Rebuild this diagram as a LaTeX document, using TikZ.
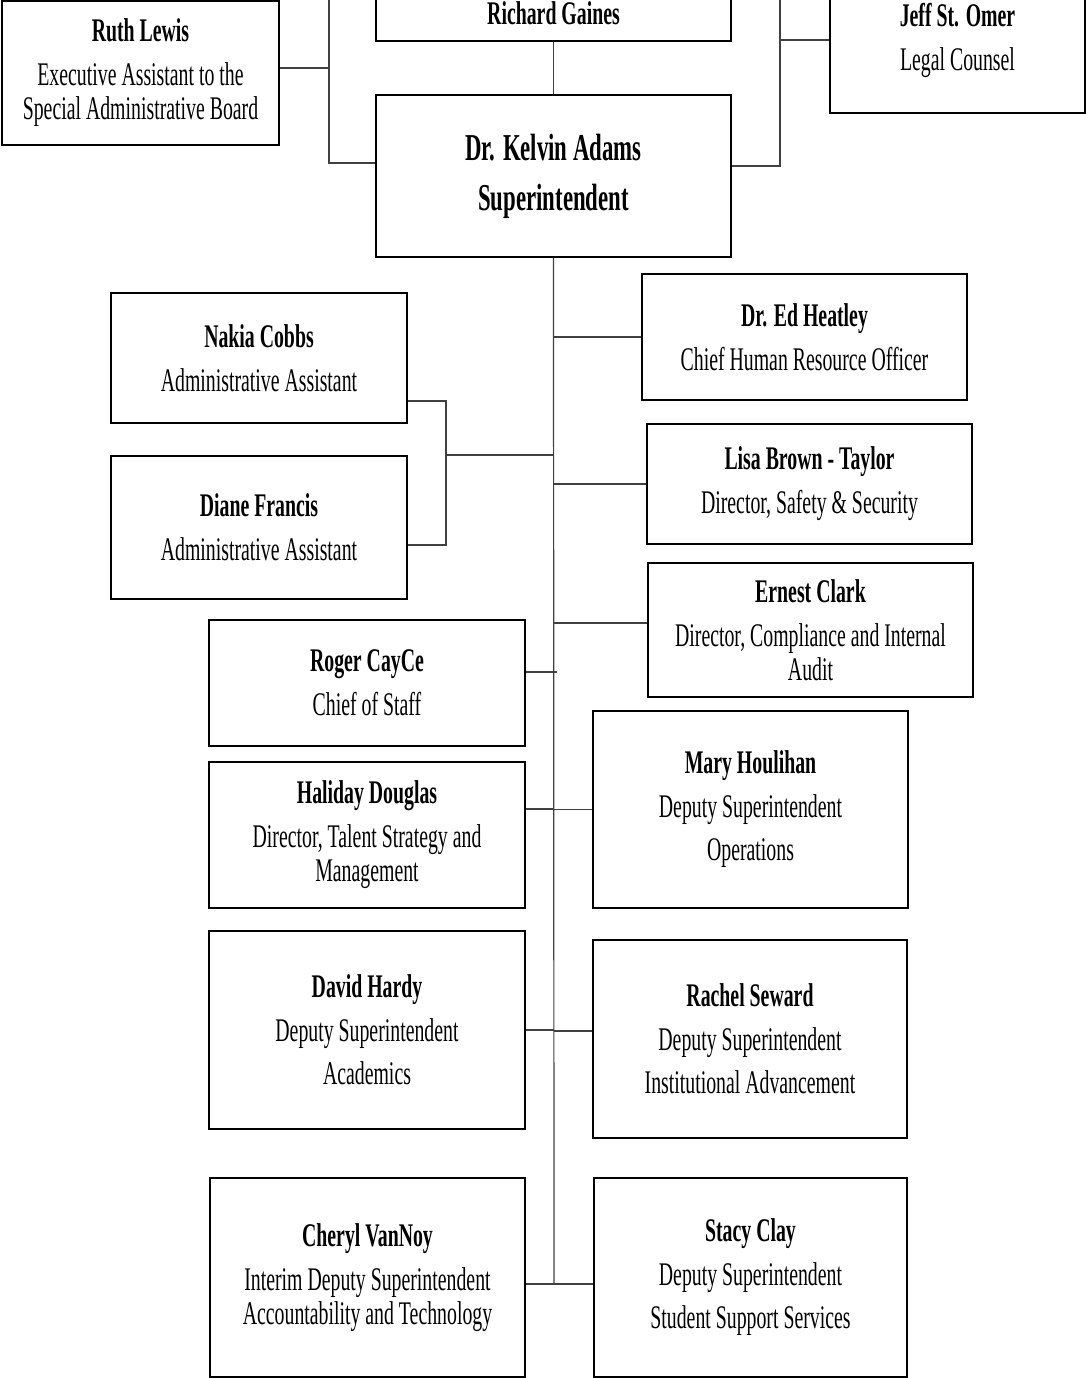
\documentclass[tikz,border=0pt]{standalone}
\usepackage{fontspec}
\setmainfont{Liberation Serif}[FakeStretch=0.6]

\begin{document}
\begin{tikzpicture}[
    x=1pt, y=-1pt,
    person/.style={
        rectangle, draw=black,
        align=center, inner sep=0pt,
        line width=2pt,
        font=\fontsize{33}{34}\selectfont
    },
    chief/.style={person, font=\fontsize{38}{50}\selectfont\bfseries},
    link/.style={line width=1.2pt, draw=black!75}
]
  \useasboundingbox (0,0) rectangle (1086,1378);
  \clip (0,0) rectangle (1086,1378);

  % Board level
  \node[person, minimum width=355, minimum height=56] (gaines) at (553.5,13) {\textbf{Richard Gaines}};
  \node[person, minimum width=277, minimum height=144] (lewis) at (140.5,73)
      {\textbf{Ruth Lewis}\\[10pt]Executive Assistant to the\\Special Administrative Board};
  \node[person, minimum width=255, minimum height=146] (stomer) at (957.5,40)
      {\textbf{Jeff St. Omer}\\[10pt]Legal Counsel};
  \node[chief, minimum width=355, minimum height=162] (adams) at (553.5,176)
      {Dr. Kelvin Adams\\Superintendent};

  % Right column
  \node[person, minimum width=325, minimum height=126] (heatley) at (804.5,337)
      {\textbf{Dr. Ed Heatley}\\[10pt]Chief Human Resource Officer};
  \node[person, minimum width=325, minimum height=120] (brown) at (809.5,484)
      {\textbf{Lisa Brown - Taylor}\\[10pt]Director, Safety \& Security};
  \node[person, minimum width=325, minimum height=134] (clark) at (810.5,630)
      {\textbf{Ernest Clark}\\[10pt]Director, Compliance and Internal\\Audit};
  \node[person, minimum width=315, minimum height=197] (houlihan) at (750.5,809.5)
      {\textbf{Mary Houlihan}\\[10pt]Deputy Superintendent\\[9pt]Operations};
  \node[person, minimum width=314, minimum height=198] (seward) at (750,1039)
      {\textbf{Rachel Seward}\\[10pt]Deputy Superintendent\\[9pt]Institutional Advancement};
  \node[person, minimum width=313, minimum height=199] (clay) at (750.5,1277.5)
      {\textbf{Stacy Clay}\\[10pt]Deputy Superintendent\\[9pt]Student Support Services};

  % Left column
  \node[person, minimum width=296, minimum height=130] (cobbs) at (259,358)
      {\textbf{Nakia Cobbs}\\[10pt]Administrative Assistant};
  \node[person, minimum width=296, minimum height=143] (francis) at (259,527.5)
      {\textbf{Diane Francis}\\[10pt]Administrative Assistant};
  \node[person, minimum width=316, minimum height=126] (cayce) at (367,683)
      {\textbf{Roger CayCe}\\[10pt]Chief of Staff};
  \node[person, minimum width=316, minimum height=146] (douglas) at (367,835)
      {\textbf{Haliday Douglas}\\[10pt]Director, Talent Strategy and\\Management};
  \node[person, minimum width=316, minimum height=198] (hardy) at (367,1030)
      {\textbf{David Hardy}\\[10pt]Deputy Superintendent\\[9pt]Academics};
  \node[person, minimum width=315, minimum height=199] (vannoy) at (367.5,1277.5)
      {\textbf{Cheryl VanNoy}\\[10pt]Interim Deputy Superintendent\\Accountability and Technology};

  % Junction points
  \coordinate (boardleft) at (329,-20);
  \coordinate (boardright) at (780,-20);
  \coordinate (adminjoin) at (446,455);
  \coordinate (trunkend) at (554,1284);

  % Board to Superintendent
  \draw[link] (gaines.south) -- (adams.north);
  \draw[link] ([yshift=13pt]adams.west) -| (boardleft);
  \draw[link] ([yshift=5pt]lewis.east) -- ([yshift=5pt]lewis.east -| boardleft);
  \draw[link] ([yshift=10pt]adams.east) -| (boardright);
  \draw[link] (stomer.west) -- (stomer.west -| boardright);

  % Main trunk
  \draw[link] (adams.south) -- (trunkend);

  % Right branches
  \draw[link] (heatley.west) -- (heatley.west -| trunkend);
  \draw[link] (brown.west) -- (brown.west -| trunkend);
  \draw[link] ([yshift=7pt]clark.west) -- ([yshift=7pt]clark.west -| trunkend);
  \draw[link] (houlihan.west) -- (houlihan.west -| trunkend);
  \draw[link] ([yshift=8pt]seward.west) -- ([yshift=8pt]seward.west -| trunkend);
  \draw[link] ([yshift=-6.5pt]clay.west) -- ([yshift=-6.5pt]clay.west -| trunkend);

  % Left branches
  \draw[link] ([yshift=-43pt]cobbs.east) -| (adminjoin);
  \draw[link] ([yshift=-17.5pt]francis.east) -| (adminjoin);
  \draw[link] (adminjoin) -- (adminjoin -| trunkend);
  \draw[link] ([yshift=11pt]cayce.east) -- ([yshift=11pt,xshift=3pt]cayce.east -| trunkend);
  \draw[link] ([yshift=26pt]douglas.east) -- ([yshift=26pt]douglas.east -| trunkend);
  \draw[link] (hardy.east) -- (hardy.east -| trunkend);
  \draw[link] ([yshift=-6.5pt]vannoy.east) -- ([yshift=-6.5pt]vannoy.east -| trunkend);

\end{tikzpicture}
\end{document}
